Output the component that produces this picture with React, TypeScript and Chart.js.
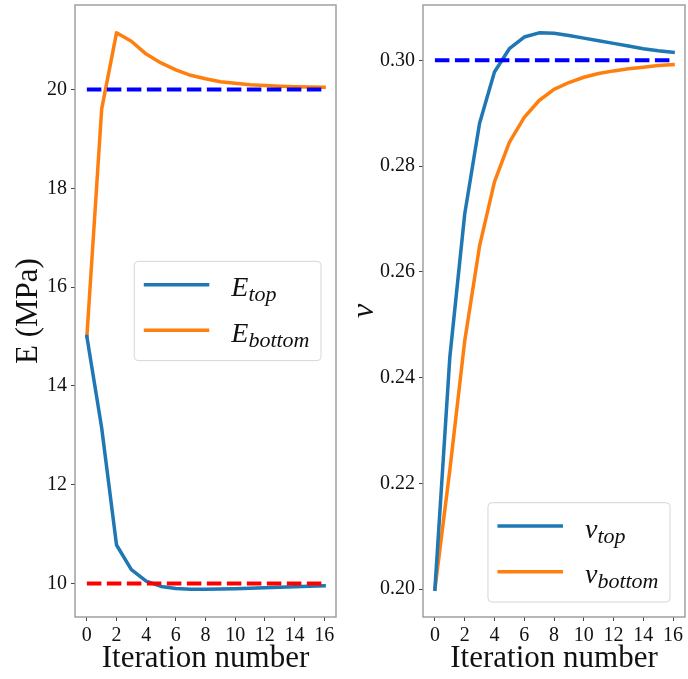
import React, { useEffect, useRef } from "react";
import { Chart, registerables } from "chart.js";

Chart.register(...registerables);

// ---------------- data ----------------
const iterations = [0, 1, 2, 3, 4, 5, 6, 7, 8, 9, 10, 11, 12, 13, 14, 15, 16];
const eTop = [15.0, 13.15, 10.78, 10.28, 10.05, 9.94, 9.9, 9.885, 9.885, 9.89, 9.895, 9.905, 9.915, 9.925, 9.935, 9.945, 9.955];
const eBottom = [15.0, 19.61, 21.15, 20.98, 20.72, 20.54, 20.4, 20.29, 20.22, 20.16, 20.13, 20.1, 20.085, 20.07, 20.06, 20.055, 20.05];
const nuTop = [0.2, 0.2438, 0.2709, 0.2881, 0.2978, 0.3022, 0.3044, 0.3052, 0.3051, 0.3047, 0.3042, 0.3037, 0.3032, 0.3027, 0.3022, 0.3018, 0.3015];
const nuBottom = [0.2, 0.2225, 0.2469, 0.2649, 0.277, 0.2845, 0.2892, 0.2924, 0.2945, 0.2958, 0.2968, 0.2975, 0.298, 0.2984, 0.2987, 0.299, 0.2992];
const eTopTarget = 10;
const eBottomTarget = 20;
const nuTarget = 0.3;
const xTicks = [0, 2, 4, 6, 8, 10, 12, 14, 16];
const eTicks = [10, 12, 14, 16, 18, 20];
const nuTicks = [0.2, 0.22, 0.24, 0.26, 0.28, 0.3];

// ---------------- styles ----------------
const SERIF = '"Liberation Serif", "Times New Roman", serif';
const C_BLUE = "#1f77b4";
const C_ORANGE = "#ff7f0e";

const pts = (ys: number[]) => ys.map((y, i) => ({ x: iterations[i], y }));
const hline = (y: number) => [
  { x: iterations[0], y },
  { x: iterations[iterations.length - 1], y },
];

const margins = (arrs: number[][]) => {
  const all = arrs.flat();
  const lo = Math.min(...all);
  const hi = Math.max(...all);
  const m = (hi - lo) * 0.05;
  return [lo - m, hi + m];
};

const framePlugin = {
  id: "mplFrame",
  afterDatasetsDraw(chart: any, _args: any, opts: any) {
    const { ctx, chartArea: a } = chart;
    ctx.save();
    ctx.strokeStyle = "#999";
    ctx.lineWidth = 1.4;
    ctx.strokeRect(a.left, a.top, a.right - a.left, a.bottom - a.top);
    ctx.restore();

    const items = opts && opts.items;
    if (!items) return;
    ctx.save();
    const mainFont = `italic 28px ${SERIF}`;
    const subFont = `italic 22px ${SERIF}`;
    let textW = 0;
    for (const it of items) {
      ctx.font = mainFont;
      const w1 = ctx.measureText(it.main).width;
      ctx.font = subFont;
      const w2 = ctx.measureText(it.sub).width;
      textW = Math.max(textW, w1 + w2);
    }
    const padL = 9.5, handle = 65.5, gap = 22, padR = 11.5;
    const boxW = padL + handle + gap + textW + padR;
    const rowFirst = 23.4, rowGap = 45.6, padB = 30.3;
    const boxH = rowFirst + rowGap * (items.length - 1) + padB;
    const margin = 15;
    const x0 = a.right - margin - boxW;
    const y0 =
      opts.loc === "center right"
        ? (a.top + a.bottom) / 2 - boxH / 2
        : a.bottom - margin - boxH;
    const r = 4;
    ctx.beginPath();
    ctx.moveTo(x0 + r, y0);
    ctx.lineTo(x0 + boxW - r, y0);
    ctx.quadraticCurveTo(x0 + boxW, y0, x0 + boxW, y0 + r);
    ctx.lineTo(x0 + boxW, y0 + boxH - r);
    ctx.quadraticCurveTo(x0 + boxW, y0 + boxH, x0 + boxW - r, y0 + boxH);
    ctx.lineTo(x0 + r, y0 + boxH);
    ctx.quadraticCurveTo(x0, y0 + boxH, x0, y0 + boxH - r);
    ctx.lineTo(x0, y0 + r);
    ctx.quadraticCurveTo(x0, y0, x0 + r, y0);
    ctx.closePath();
    ctx.fillStyle = "rgba(255,255,255,0.8)";
    ctx.fill();
    ctx.strokeStyle = "#d6d6d6";
    ctx.lineWidth = 1;
    ctx.stroke();

    items.forEach((it: any, i: number) => {
      const yy = y0 + rowFirst + rowGap * i;
      ctx.strokeStyle = it.color;
      ctx.lineWidth = 3.5;
      ctx.lineCap = "butt";
      ctx.beginPath();
      ctx.moveTo(x0 + padL, yy);
      ctx.lineTo(x0 + padL + handle, yy);
      ctx.stroke();
      const tx = x0 + padL + handle + gap;
      ctx.fillStyle = "#111";
      ctx.textBaseline = "alphabetic";
      ctx.textAlign = "left";
      ctx.font = mainFont;
      ctx.fillText(it.main, tx, yy + 11.5);
      const w1 = ctx.measureText(it.main).width;
      ctx.font = subFont;
      ctx.fillText(it.sub, tx + w1, yy + 16.5);
    });
    ctx.restore();
  },
};

function makeConfig(p: {
  series: { data: number[]; color: string }[];
  targets: { y: number; color: string }[];
  yTicks: number[];
  yFmt: (v: number) => string;
  yTitle: string;
  yTitleFont: any;
  yTitlePad: number;
  yWidth: number;
  padRight: number;
  legend: any;
}) {
  const [ymin, ymax] = margins(p.series.map((s) => s.data));
  const tickFont = { family: SERIF, size: 20 };
  const datasets: any[] = [
    ...p.targets.map((t) => ({
      data: hline(t.y),
      borderColor: t.color,
      borderWidth: 4,
      borderDash: [14.5, 5.5],
      borderCapStyle: "butt",
      pointRadius: 0,
      fill: false,
      order: 0,
    })),
    ...p.series.map((s) => ({
      data: pts(s.data),
      borderColor: s.color,
      borderWidth: 3.5,
      borderJoinStyle: "round",
      borderCapStyle: "square",
      pointRadius: 0,
      tension: 0,
      fill: false,
      order: 1,
    })),
  ];
  return {
    type: "line",
    data: { datasets },
    plugins: [framePlugin],
    options: {
      animation: false,
      responsive: false,
      maintainAspectRatio: false,
      layout: { padding: { top: 5, right: p.padRight, left: 0, bottom: 0 } },
      plugins: {
        legend: { display: false },
        tooltip: { enabled: false },
        mplFrame: p.legend,
      },
      scales: {
        x: {
          type: "linear",
          min: -0.8,
          max: 16.8,
          afterBuildTicks: (s: any) => {
            s.ticks = xTicks.map((v) => ({ value: v }));
          },
          afterFit: (s: any) => {
            s.height = 62;
            s.paddingLeft = 0;
            s.paddingRight = 0;
          },
          ticks: {
            font: tickFont,
            color: "#111",
            padding: 3,
            autoSkip: false,
            maxRotation: 0,
            callback: (v: number) => String(v),
          },
          grid: {
            drawOnChartArea: false,
            drawTicks: true,
            tickLength: 4,
            tickColor: "#444",
            color: "#444",
          },
          border: { display: false },
          title: {
            display: true,
            text: "Iteration number",
            color: "#111",
            font: { family: SERIF, size: 31 },
            padding: { top: 0, bottom: 2 },
          },
        },
        y: {
          type: "linear",
          min: ymin,
          max: ymax,
          afterBuildTicks: (s: any) => {
            s.ticks = p.yTicks.map((v) => ({ value: v }));
          },
          afterFit: (s: any) => {
            s.width = p.yWidth;
            s.paddingTop = 0;
            s.paddingBottom = 0;
          },
          ticks: {
            font: tickFont,
            color: "#111",
            padding: 4,
            autoSkip: false,
            callback: (v: number) => p.yFmt(v),
          },
          grid: {
            drawOnChartArea: false,
            drawTicks: true,
            tickLength: 4,
            tickColor: "#444",
            color: "#444",
          },
          border: { display: false },
          title: {
            display: true,
            text: p.yTitle,
            color: "#111",
            font: p.yTitleFont,
            padding: { top: p.yTitlePad, bottom: 0 },
          },
        },
      },
    },
  };
}

function Panel(props: { config: any; left: number }) {
  const ref = useRef<HTMLCanvasElement | null>(null);
  useEffect(() => {
    if (!ref.current) return;
    const chart = new Chart(ref.current, props.config);
    return () => chart.destroy();
  }, []);
  return (
    <canvas
      ref={ref}
      width={344}
      height={679}
      style={{ position: "absolute", left: props.left, top: 0, width: 344, height: 679 }}
    />
  );
}

export default function App() {
  const leftCfg = makeConfig({
    series: [
      { data: eTop, color: C_BLUE },
      { data: eBottom, color: C_ORANGE },
    ],
    targets: [
      { y: eBottomTarget, color: "#0000ff" },
      { y: eTopTarget, color: "#ff0000" },
    ],
    yTicks: eTicks,
    yFmt: (v) => String(Math.round(v)),
    yTitle: "E (MPa)",
    yTitleFont: { family: SERIF, size: 31 },
    yTitlePad: 10,
    yWidth: 75,
    padRight: 8,
    legend: {
      loc: "center right",
      items: [
        { color: C_BLUE, main: "E", sub: "top" },
        { color: C_ORANGE, main: "E", sub: "bottom" },
      ],
    },
  });
  const rightCfg = makeConfig({
    series: [
      { data: nuTop, color: C_BLUE },
      { data: nuBottom, color: C_ORANGE },
    ],
    targets: [{ y: nuTarget, color: "#0000ff" }],
    yTicks: nuTicks,
    yFmt: (v) => v.toFixed(2),
    yTitle: "ν",
    yTitleFont: { family: SERIF, size: 32, style: "italic" },
    yTitlePad: 1,
    yWidth: 79,
    padRight: 3,
    legend: {
      loc: "lower right",
      items: [
        { color: C_BLUE, main: "v", sub: "top" },
        { color: C_ORANGE, main: "v", sub: "bottom" },
      ],
    },
  });
  return (
    <div style={{ position: "absolute", left: 0, top: 0, width: 688, height: 679, background: "#fff" }}>
      <Panel config={leftCfg} left={0} />
      <Panel config={rightCfg} left={344} />
    </div>
  );
}
